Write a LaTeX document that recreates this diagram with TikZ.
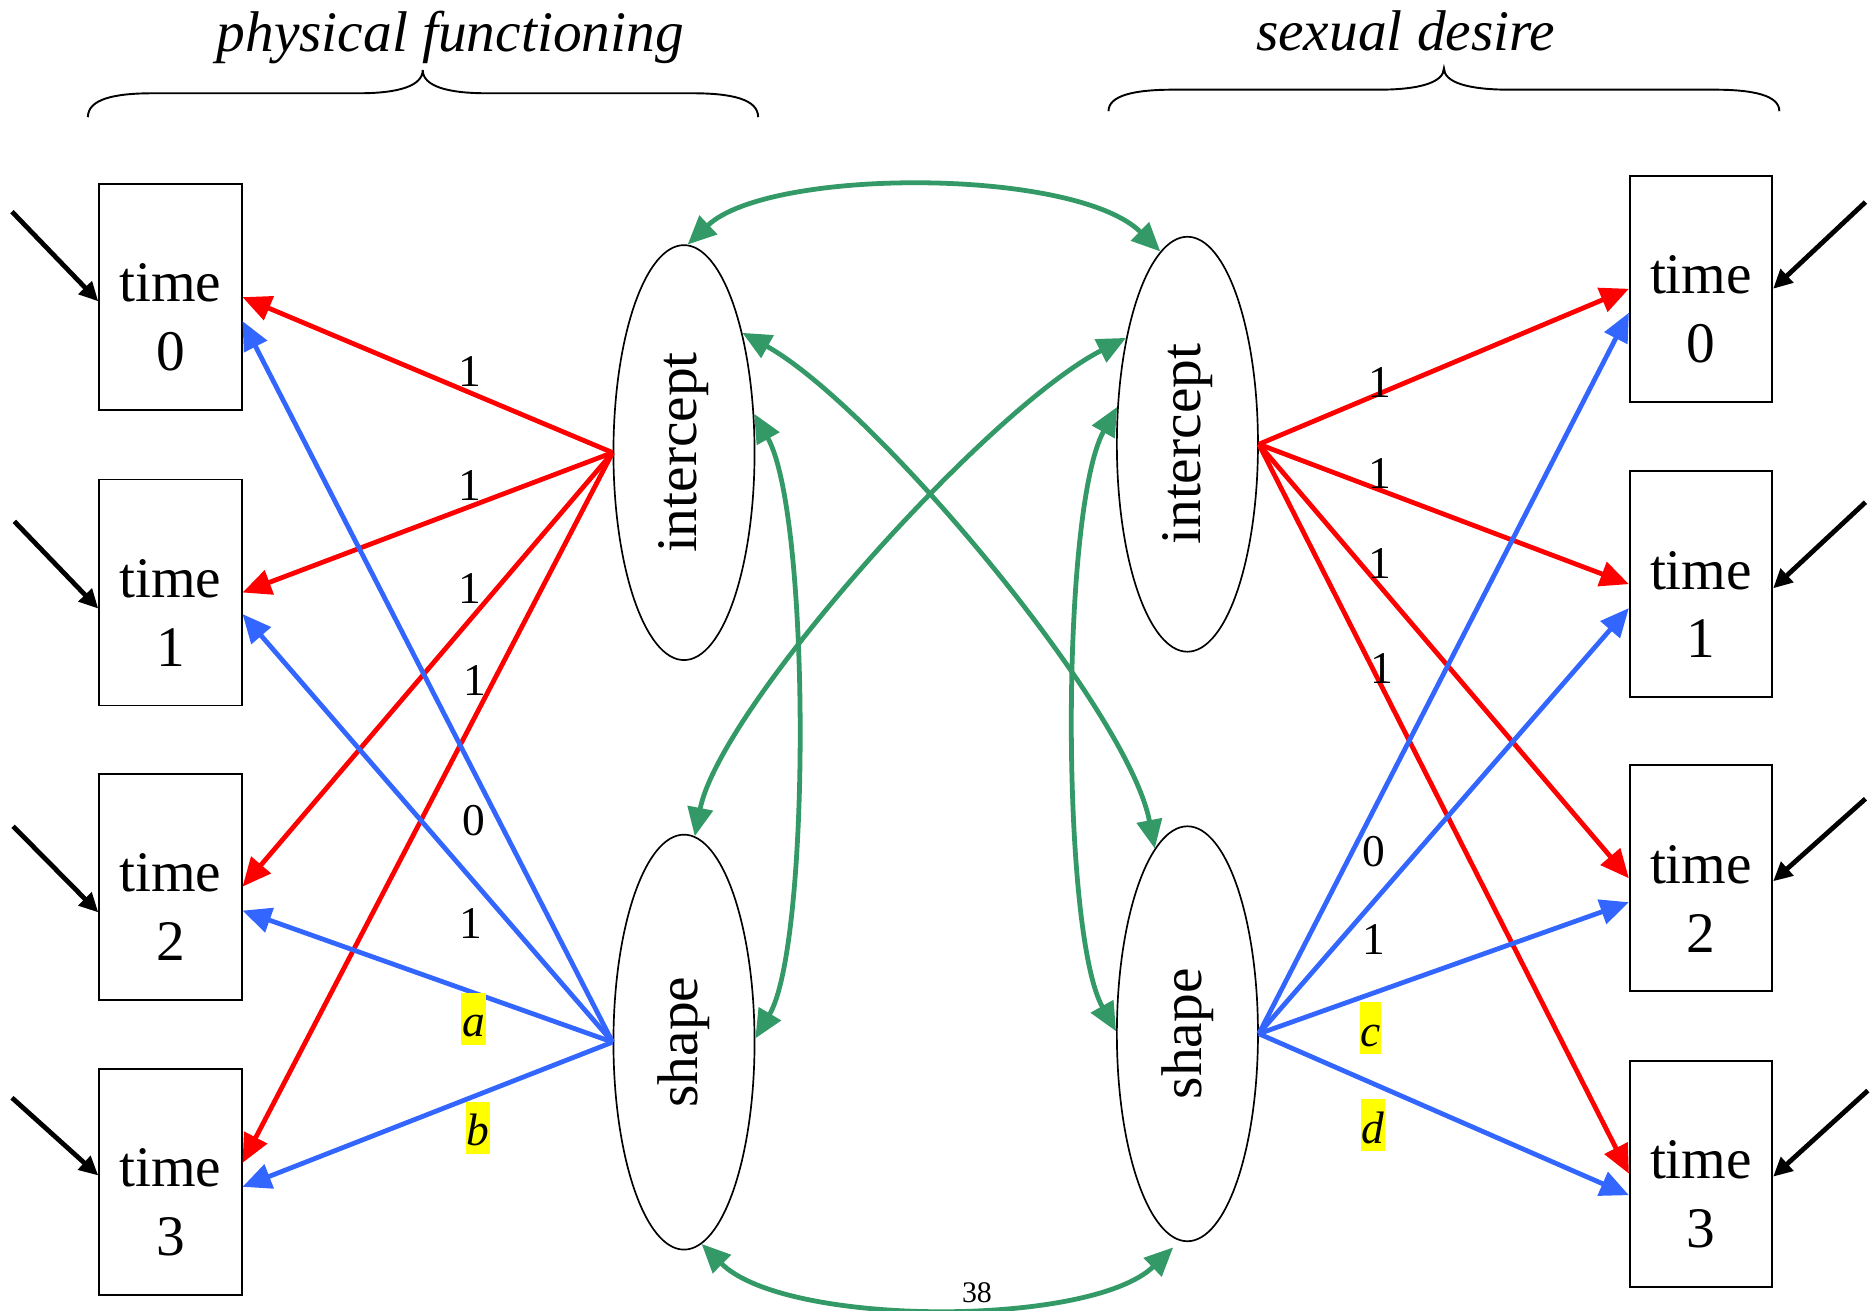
\documentclass[tikz,border=0pt]{standalone}
\usepackage{fontspec}
\setmainfont{Liberation Serif}
\usetikzlibrary{arrows.meta,shapes.geometric}
\definecolor{pred}{RGB}{255,0,0}
\definecolor{pblue}{RGB}{51,102,255}
\definecolor{pgreen}{RGB}{51,153,102}
\definecolor{pyellow}{RGB}{255,255,0}
\begin{document}
\begin{tikzpicture}[x=0.5pt,y=-0.5pt,
  timebox/.style={draw=black, line width=0.8pt, minimum width=59.5pt, minimum height=94.5pt, inner sep=0pt},
  boxtext/.style={font=\fontsize{24}{28.8}\selectfont, align=center, inner sep=0pt},
  latent/.style={draw=black, line width=0.7pt, ellipse, minimum width=59pt, minimum height=173.5pt, inner sep=0pt},
  latenttext/.style={font=\fontsize{24}{28.8}\selectfont, rotate=90, inner sep=0pt},
  redarr/.style={draw=pred, line width=2pt, -{Triangle[length=12pt,width=10.5pt]}},
  bluearr/.style={draw=pblue, line width=2pt, -{Triangle[length=12pt,width=10.5pt]}},
  greenarr/.style={draw=pgreen, line width=2pt, {Triangle[length=12pt,width=10.5pt]}-{Triangle[length=12pt,width=10.5pt]}},
  errarr/.style={draw=black, line width=2pt, -{Triangle[length=8pt,width=7.5pt]}},
  coef/.style={font=\fontsize{19}{22}\selectfont, inner sep=0pt},
  pathlab/.style={font=\fontsize{19}{22}\selectfont\itshape, fill=pyellow, inner xsep=0.3pt, inner ysep=0.4pt, text height=18pt, text depth=3pt},
  titletext/.style={font=\fontsize{24}{28.8}\selectfont\itshape, inner sep=0pt, anchor=base},
  bracepath/.style={draw=black, line width=0.8pt},
  numtext/.style={font=\fontsize{12.5}{14}\selectfont, inner sep=0pt, anchor=north}
]
\useasboundingbox (0,0) rectangle (1568,1096);

% titles and braces
\node[titletext] (ttl) at (376.5,43) {physical functioning};
\node[titletext] (ttr) at (1175.5,42) {sexual desire};
\draw[bracepath] (73.5,98) .. controls (73.5,83) and (95,78) .. (128,78) -- (300,78)
  .. controls (333,78) and (353.5,72) .. (353.5,58.5)
  .. controls (353.5,72) and (374,78) .. (407,78) -- (579,78)
  .. controls (612,78) and (634,83) .. (634,98);
\draw[bracepath] (927,93) .. controls (927,80) and (948,75) .. (981,75) -- (1153,75)
  .. controls (1187,75) and (1207.5,69) .. (1207.5,57)
  .. controls (1207.5,69) and (1228,75) .. (1262,75) -- (1434,75)
  .. controls (1467,75) and (1488,80) .. (1488,93);

% boxes
\node[timebox] (t0) at (142.5,248.5) {};
\node[timebox] (t1) at (142.5,495.5) {};
\node[timebox] (t2) at (142.5,741.5) {};
\node[timebox] (t3) at (142.5,988.5) {};
\node[timebox] (u0) at (1422.5,241.5) {};
\node[timebox] (u1) at (1422.5,488.5) {};
\node[timebox] (u2) at (1422.5,734.5) {};
\node[timebox] (u3) at (1422.5,981.5) {};
\node[boxtext] (t0l) at ([yshift=-8.5pt]t0.center) {time\\0};
\node[boxtext] (t1l) at ([yshift=-8.5pt]t1.center) {time\\1};
\node[boxtext] (t2l) at ([yshift=-8.5pt]t2.center) {time\\2};
\node[boxtext] (t3l) at ([yshift=-8.5pt]t3.center) {time\\3};
\node[boxtext] (u0l) at ([yshift=-8.5pt]u0.center) {time\\0};
\node[boxtext] (u1l) at ([yshift=-8.5pt]u1.center) {time\\1};
\node[boxtext] (u2l) at ([yshift=-8.5pt]u2.center) {time\\2};
\node[boxtext] (u3l) at ([yshift=-8.5pt]u3.center) {time\\3};

% latent ellipses
\node[latent] (li) at (572,378.5) {};
\node[latent] (ls) at (572,871.5) {};
\node[latent] (ri) at (993,371.5) {};
\node[latent] (rs) at (993,864.5) {};
\node[latenttext] (lit) at (li) {intercept};
\node[latenttext] (lst) at (ls) {shape};
\node[latenttext] (rit) at (ri) {intercept};
\node[latenttext] (rst) at (rs) {shape};

% error arrows
\coordinate (e0) at (10,177);
\coordinate (e1) at (12,436);
\coordinate (e2) at (11,691);
\coordinate (e3) at (10,918);
\coordinate (f0) at (1560,169);
\coordinate (f1) at (1560,420);
\coordinate (f2) at (1560,668);
\coordinate (f3) at (1562,912);
\draw[errarr] (e0) -- ([yshift=-1.75pt]t0.west);
\draw[errarr] (e1) -- ([yshift=-6.75pt]t1.west);
\draw[errarr] (e2) -- ([yshift=-10.75pt]t2.west);
\draw[errarr] (e3) -- ([yshift=2.75pt]t3.west);
\draw[errarr] (f0) -- (u0.east);
\draw[errarr] (f1) -- ([yshift=-1.75pt]u1.east);
\draw[errarr] (f2) -- ([yshift=-1.25pt]u2.east);
\draw[errarr] (f3) -- ([yshift=-1.25pt]u3.east);

% loadings, left
\draw[redarr] (li.west) -- (t0.east);
\draw[redarr] (li.west) -- (t1.east);
\draw[redarr] (li.west) -- (t2.east);
\draw[redarr] (li.west) -- ([yshift=8pt]t3.east);
\draw[bluearr] (ls.west) -- ([yshift=-10pt]t0.east);
\draw[bluearr] (ls.west) -- ([yshift=-9pt]t1.east);
\draw[bluearr] (ls.west) -- ([yshift=-10pt]t2.east);
\draw[bluearr] (ls.west) -- ([yshift=-2pt]t3.east);
% loadings, right
\draw[redarr] (ri.east) -- (u0.west);
\draw[redarr] (ri.east) -- (u1.west);
\draw[redarr] (ri.east) -- (u2.west);
\draw[redarr] (ri.east) -- (u3.west);
\draw[bluearr] (rs.east) -- ([yshift=-10pt]u0.west);
\draw[bluearr] (rs.east) -- ([yshift=-10pt]u1.west);
\draw[bluearr] (rs.east) -- ([yshift=-10pt]u2.west);
\draw[bluearr] (rs.east) -- ([yshift=-9pt]u3.west);

% loading labels
\node[coef] (c1) at (393,311) {1};
\node[coef] (c2) at (393,406) {1};
\node[coef] (c3) at (393,492) {1};
\node[coef] (c4) at (397,569) {1};
\node[coef] (c5) at (396,686) {0};
\node[coef] (c6) at (394,772) {1};
\node[pathlab] (la) at (396,852) {a};
\node[pathlab] (lb) at (400,943) {b};
\node[coef] (d1) at (1154,320) {1};
\node[coef] (d2) at (1154,396) {1};
\node[coef] (d3) at (1154,471) {1};
\node[coef] (d4) at (1156,559) {1};
\node[coef] (d5) at (1149,712) {0};
\node[coef] (d6) at (1149,786) {1};
\node[pathlab] (lc) at (1146,860) {c};
\node[pathlab] (ld) at (1148,941) {d};

% covariances
\node[numtext] (n38) at (817,1072) {38};
\draw[greenarr] (li.89) .. controls (643,140) and (899,140) .. (ri.98);
\draw[greenarr] (ls.-85) .. controls (657,1110) and (912,1110) .. ([yshift=-4pt]rs.-94);
\draw[greenarr] (li.29) .. controls (678,430) and (678,790) .. (ls.3);
\draw[greenarr] (ri.152) .. controls (887,425) and (887,780) .. (rs.178);
\draw[greenarr] (li.64) .. controls (730,338.5) and (943,592) .. (rs.100);
\draw[greenarr] (ri.120) .. controls (826,341.5) and (602,592) .. (ls.87);
\end{tikzpicture}
\end{document}
